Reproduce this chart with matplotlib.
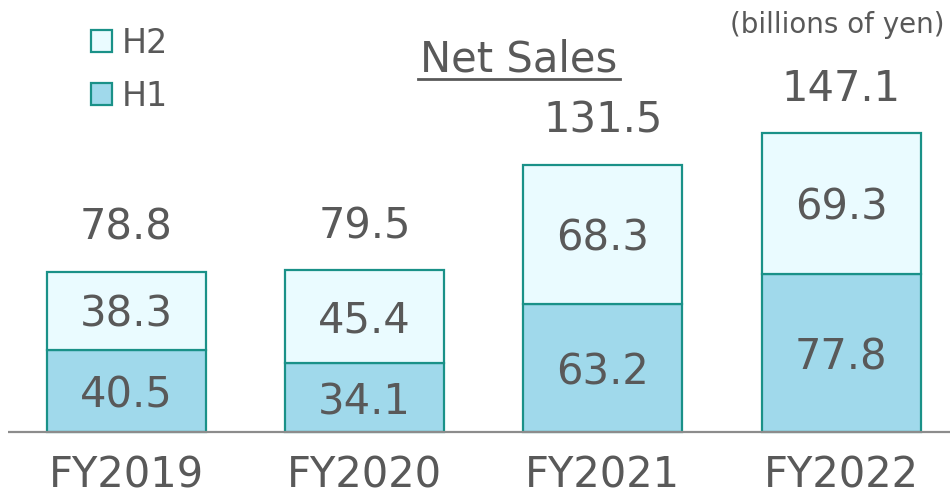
import numpy as np
import matplotlib
matplotlib.use("Agg")
from matplotlib import pyplot as plt
from matplotlib.lines import Line2D

years = ["FY2019", "FY2020", "FY2021", "FY2022"]
h1 = [40.5, 34.1, 63.2, 77.8]
h2 = [38.3, 45.4, 68.3, 69.3]
totals = [78.8, 79.5, 131.5, 147.1]

textColor = "#595959"
edgeColor = "#1a9188"
h1Color = "#a0d9eb"
h2Color = "#eafbff"

plt.rcParams['font.family'] = ['DejaVu Sans']

fig = plt.figure(figsize=(9.5, 4.97), dpi=100)
ax = fig.add_axes([0, 0, 1, 1])

# pixel scale of the reference: 238.2 px between bars, 2.033 px per billion
pxX = 238.2
pxY = 2.033
ax.set_xlim(-126.5 / pxX, (950 - 126.5) / pxX)
ax.set_ylim(-65 / pxY, 432 / pxY)
ax.axis("off")

x = np.arange(len(years))
width = 159 / pxX
b1 = ax.bar(x, h1, width, color=h1Color, edgecolor=edgeColor, linewidth=1.6, label="H1", zorder=2)
b2 = ax.bar(x, h2, width, bottom=h1, color=h2Color, edgecolor=edgeColor, linewidth=1.6, label="H2", zorder=2)

# baseline
ax.plot([(8 - 126.5) / pxX, (950 - 126.5) / pxX], [0, 0], color="#8c8c8c", linewidth=1.6, zorder=3,
        solid_capstyle="butt")

for i in range(len(years)):
    ax.text(x[i], h1[i] / 2 - 2.5, f"{h1[i]:.1f}", ha="center", va="center", fontsize=30, color=textColor, zorder=4)
    ax.text(x[i], h1[i] + h2[i] / 2 - 2, f"{h2[i]:.1f}", ha="center", va="center", fontsize=30, color=textColor, zorder=4)
    ax.text(x[i], totals[i] + 44 / pxY, f"{totals[i]:.1f}", ha="center", va="center", fontsize=30, color=textColor)
    ax.text(x[i], -43 / pxY, years[i], ha="center", va="center", fontsize=30, color=textColor)

# title with underline
fig.text(519 / 950, 1 - 60 / 497, "Net Sales", ha="center", va="center", fontsize=30, color=textColor)
fig.add_artist(Line2D([418 / 950, 620 / 950], [1 - 79 / 497, 1 - 79 / 497], color=textColor, linewidth=2))

fig.text(945 / 950, 1 - 25 / 497, "(billions of yen)", ha="right", va="center", fontsize=20, color=textColor)

leg = ax.legend(handles=[b2, b1], labels=["H2", "H1"], loc="upper left",
                bbox_to_anchor=(91 / 950, 1 - 27 / 497), bbox_transform=fig.transFigure,
                frameon=False, fontsize=24, handlelength=0.62, handleheight=0.62,
                handletextpad=0.3, labelspacing=0.6, borderpad=0, borderaxespad=0)
for t in leg.get_texts():
    t.set_color(textColor)

fig.savefig("out.png", dpi=100)
